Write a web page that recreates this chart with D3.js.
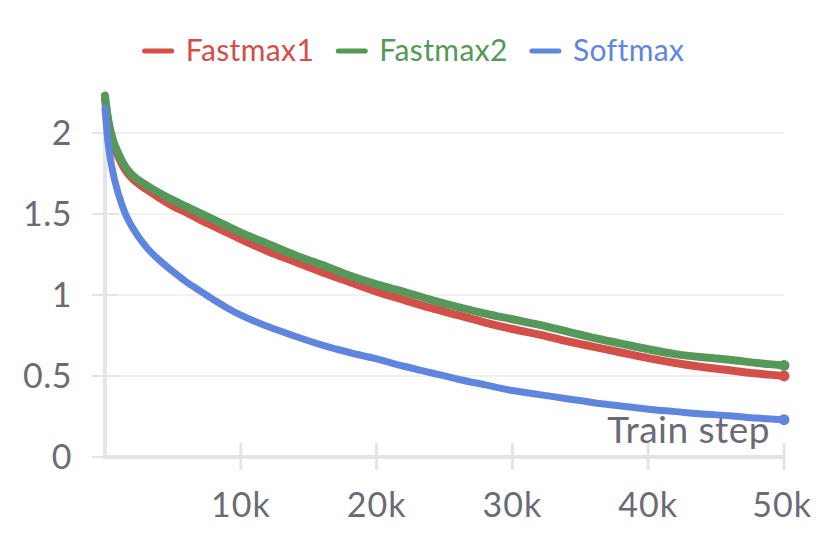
<!DOCTYPE html>
<html>
<head>
<meta charset="utf-8">
<script src="https://cdn.jsdelivr.net/npm/d3@7"></script>
<style>
  html, body { margin: 0; padding: 0; background: #fff; }
  svg { display: block; overflow: hidden; }
  text { font-family: "Source Sans Pro", Lato, "Noto Sans", sans-serif; }
</style>
</head>
<body>
<svg id="chart" width="817" height="546"></svg>
<script>
// ---- data ----
const steps = [0, 200, 500, 1000, 1500, 2000, 3000, 4000, 5000, 6000, 7000, 8000, 9000, 10000,
  12000, 14000, 16000, 18000, 20000, 22000, 24000, 26000, 28000, 30000, 32000, 34000,
  36000, 38000, 40000, 42000, 44000, 46000, 48000, 50000];
const fastmax1 = [2.21, 2.08, 1.96, 1.85, 1.77, 1.72, 1.655, 1.60, 1.55, 1.51, 1.465, 1.425, 1.385, 1.345,
  1.27, 1.205, 1.14, 1.08, 1.02, 0.97, 0.92, 0.875, 0.83, 0.79, 0.755, 0.715,
  0.68, 0.645, 0.61, 0.58, 0.555, 0.535, 0.515, 0.50];
const fastmax2 = [2.23, 2.10, 1.98, 1.87, 1.79, 1.74, 1.68, 1.63, 1.585, 1.545, 1.505, 1.465, 1.425, 1.385,
  1.315, 1.245, 1.185, 1.12, 1.065, 1.02, 0.97, 0.925, 0.885, 0.85, 0.815, 0.775,
  0.735, 0.70, 0.665, 0.635, 0.615, 0.60, 0.58, 0.565];
const softmax = [2.15, 1.96, 1.79, 1.62, 1.50, 1.42, 1.30, 1.215, 1.145, 1.08, 1.025, 0.97, 0.92, 0.875,
  0.805, 0.745, 0.69, 0.645, 0.605, 0.56, 0.52, 0.48, 0.445, 0.41, 0.385, 0.36,
  0.335, 0.315, 0.295, 0.28, 0.265, 0.255, 0.24, 0.23];

const seriesNames = ["Fastmax1", "Fastmax2", "Softmax"];
const seriesColors = ["#d24f4a", "#55985a", "#5f86df"];
const yTicks = [0, 0.5, 1, 1.5, 2];
const yTickLabels = ["0", "0.5", "1", "1.5", "2"];
const xTicks = [10000, 20000, 30000, 40000, 50000];
const xTickLabels = ["10k", "20k", "30k", "40k", "50k"];
const xTitle = "Train step";

// ---- layout ----
const svg = d3.select("#chart");
const x = d3.scaleLinear().domain([0, 50000]).range([105, 784]);
const y = d3.scaleLinear().domain([0, 2.265]).range([457, 90]);
const axisColor = "#e4e4e6";
const textColor = "#6b6b76";

// gridlines
svg.append("g").selectAll("line").data(yTicks.filter(d => d > 0)).join("line")
  .attr("x1", 92).attr("x2", 784)
  .attr("y1", d => y(d)).attr("y2", d => y(d))
  .attr("stroke", "#ececee").attr("stroke-width", 1.5);

// y tick marks
svg.append("g").selectAll("line").data(yTicks).join("line")
  .attr("x1", 92).attr("x2", 118)
  .attr("y1", d => y(d)).attr("y2", d => y(d))
  .attr("stroke", axisColor).attr("stroke-width", 2);

// y tick labels
svg.append("g").selectAll("text").data(yTicks).join("text")
  .attr("x", 72).attr("y", d => y(d) + 12)
  .attr("text-anchor", "end")
  .attr("font-size", 34).attr("letter-spacing", 0.5).attr("fill", textColor)
  .text((d, i) => yTickLabels[i]);

// axes lines
svg.append("line").attr("x1", x(0)).attr("x2", x(0)).attr("y1", y(2.265)).attr("y2", y(0) + 2)
  .attr("stroke", axisColor).attr("stroke-width", 4);
svg.append("line").attr("x1", x(0) - 2).attr("x2", x(50000)).attr("y1", y(0)).attr("y2", y(0))
  .attr("stroke", axisColor).attr("stroke-width", 4);

// x tick marks
svg.append("g").selectAll("line").data(xTicks).join("line")
  .attr("x1", d => x(d)).attr("x2", d => x(d))
  .attr("y1", y(0) - 14).attr("y2", y(0) + 13)
  .attr("stroke", axisColor).attr("stroke-width", 3);

// x tick labels (last one kept inside the frame)
svg.append("g").selectAll("text").data(xTicks).join("text")
  .attr("x", (d, i) => i === xTicks.length - 1 ? 812 : x(d)).attr("y", 517)
  .attr("text-anchor", (d, i) => i === xTicks.length - 1 ? "end" : "middle")
  .attr("font-size", 34).attr("letter-spacing", 1).attr("fill", textColor)
  .text((d, i) => xTickLabels[i]);

// lines
const allSeries = [fastmax1, fastmax2, softmax];
const line = d3.line().x((d, i) => x(steps[i])).y(d => y(d)).curve(d3.curveMonotoneX);
allSeries.forEach((vals, k) => {
  svg.append("path").datum(vals)
    .attr("d", line)
    .attr("fill", "none")
    .attr("stroke", seriesColors[k])
    .attr("stroke-width", k === 2 ? 7 : 8)
    .attr("stroke-linejoin", "round")
    .attr("stroke-linecap", "round");
});
allSeries.forEach((vals, k) => {
  svg.append("circle")
    .attr("cx", x(steps[steps.length - 1]))
    .attr("cy", y(vals[vals.length - 1]))
    .attr("r", 5.5)
    .attr("fill", seriesColors[k]);
});

// x title
svg.append("text").attr("x", 770).attr("y", 443)
  .attr("text-anchor", "end").attr("font-size", 37).attr("letter-spacing", 0.5).attr("fill", textColor)
  .text(xTitle);

// legend
const legend = svg.append("g");
let cx = 0;
seriesNames.forEach((name, k) => {
  const g = legend.append("g");
  g.append("line").attr("x1", cx).attr("x2", cx + 27).attr("y1", 0).attr("y2", 0)
    .attr("stroke", seriesColors[k]).attr("stroke-width", 5).attr("stroke-linecap", "round");
  const t = g.append("text").attr("x", cx + 41).attr("y", 10)
    .attr("font-size", 30).attr("letter-spacing", 0.4).attr("fill", seriesColors[k]).text(name);
  const w = t.node().getComputedTextLength();
  cx += 41 + w + 24;
});
const totalW = cx - 24;
legend.attr("transform", `translate(${414.5 - totalW / 2}, 51)`);
</script>
</body>
</html>
